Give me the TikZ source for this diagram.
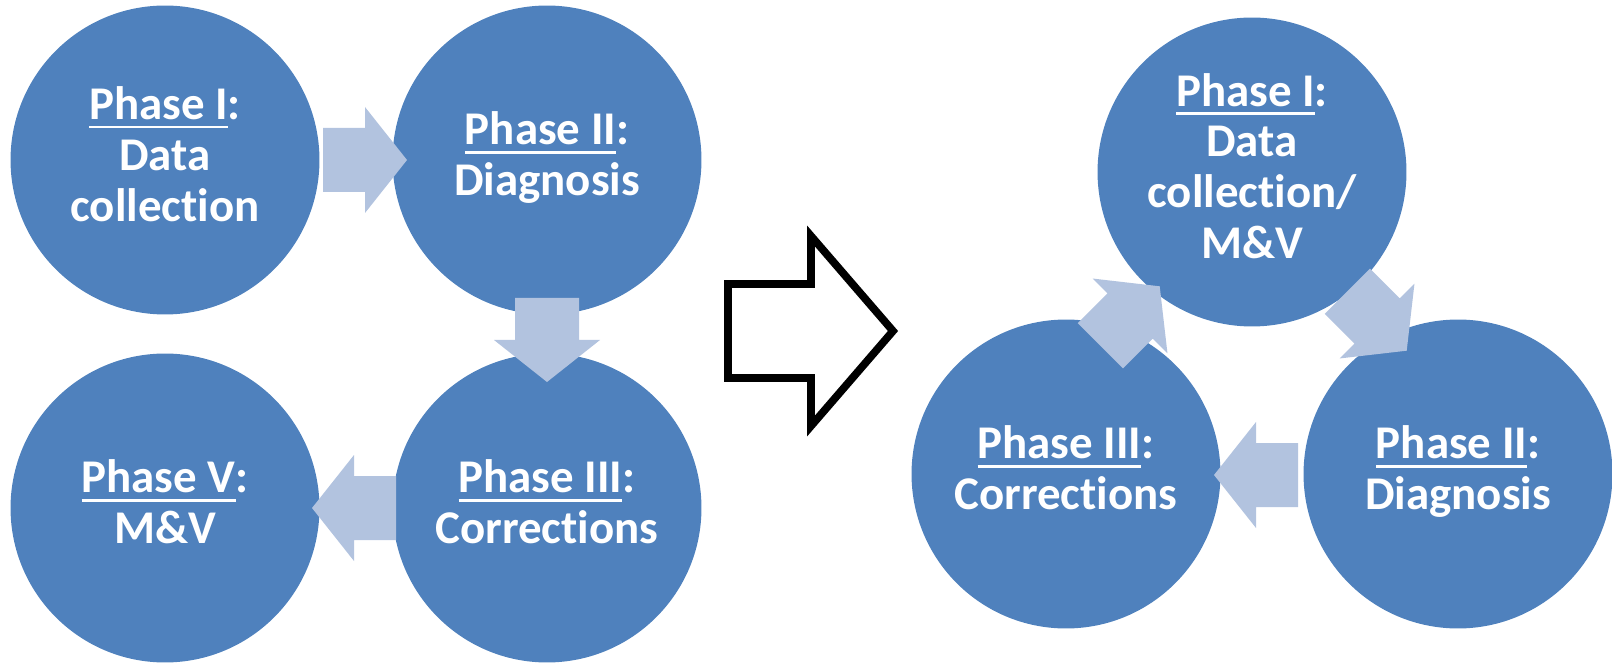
\documentclass[tikz,border=0pt]{standalone}
\usepackage{fontspec}
\setmainfont{Carlito}[Ligatures=NoCommon]
\usepackage{tikz}

\definecolor{phaseblue}{HTML}{4F81BD}
\definecolor{arrowblue}{HTML}{B2C3DF}
\newcommand\phul[1]{\setbox0=\hbox{#1}\rlap{\rule[-5pt]{\wd0}{1.5pt}}\box0}
\newcommand\topstrut{\rule{0pt}{26.5pt}}
\newcommand\botstrut{\rule[-7pt]{0pt}{7pt}}

\begin{document}
\begin{tikzpicture}[x=0.02cm, y=0.02cm,
  phase/.style={circle, fill=phaseblue, text=white, minimum size=6.18cm, inner sep=0pt, align=center,
    font=\fontsize{26.7}{28.9}\selectfont\bfseries,
    execute at begin node=\topstrut, execute at end node=\botstrut},
  blockarr/.pic={\fill[arrowblue] (-42,-32) -- (0,-32) -- (0,-53) -- (42,0) -- (0,53) -- (0,32) -- (-42,32) -- cycle;}]
  \useasboundingbox (0,0) rectangle (1612,663);

  % Old sequence
  \node[phase] (p1) at (165,503) {\phul{Phase I}:\\Data\\collection};
  \node[phase] (p2) at (547,503) {\phul{Phase II}:\\Diagnosis};
  \node[phase] (p3) at (547,155) {\phul{Phase III}:\\Corrections};
  \node[phase] (p5) at (165,155) {\phul{Phase V}:\\M\&V};

  \pic at (365,503) {blockarr};
  \pic[rotate=-90] at (547,323) {blockarr};
  \pic[rotate=180] at (354,155) {blockarr};

  % Transition
  \draw[line width=4.4pt, fill=white] (728,379) -- (811,379) -- (811,427) -- (893,332)
    -- (811,237) -- (811,285) -- (728,285) -- cycle;

  % New cycle
  \node[phase] (q1) at (1252,491) {\phul{Phase I}:\\Data\\collection/\\M\&V};
  \node[phase] (q2) at (1458,189) {\phul{Phase II}:\\Diagnosis};
  \node[phase] (q3) at (1066,189) {\phul{Phase III}:\\Corrections};

  \pic[rotate=45] at (1130,347) {blockarr};
  \pic[rotate=-45] at (1377,342) {blockarr};
  \pic[rotate=180] at (1256,188) {blockarr};
\end{tikzpicture}
\end{document}
